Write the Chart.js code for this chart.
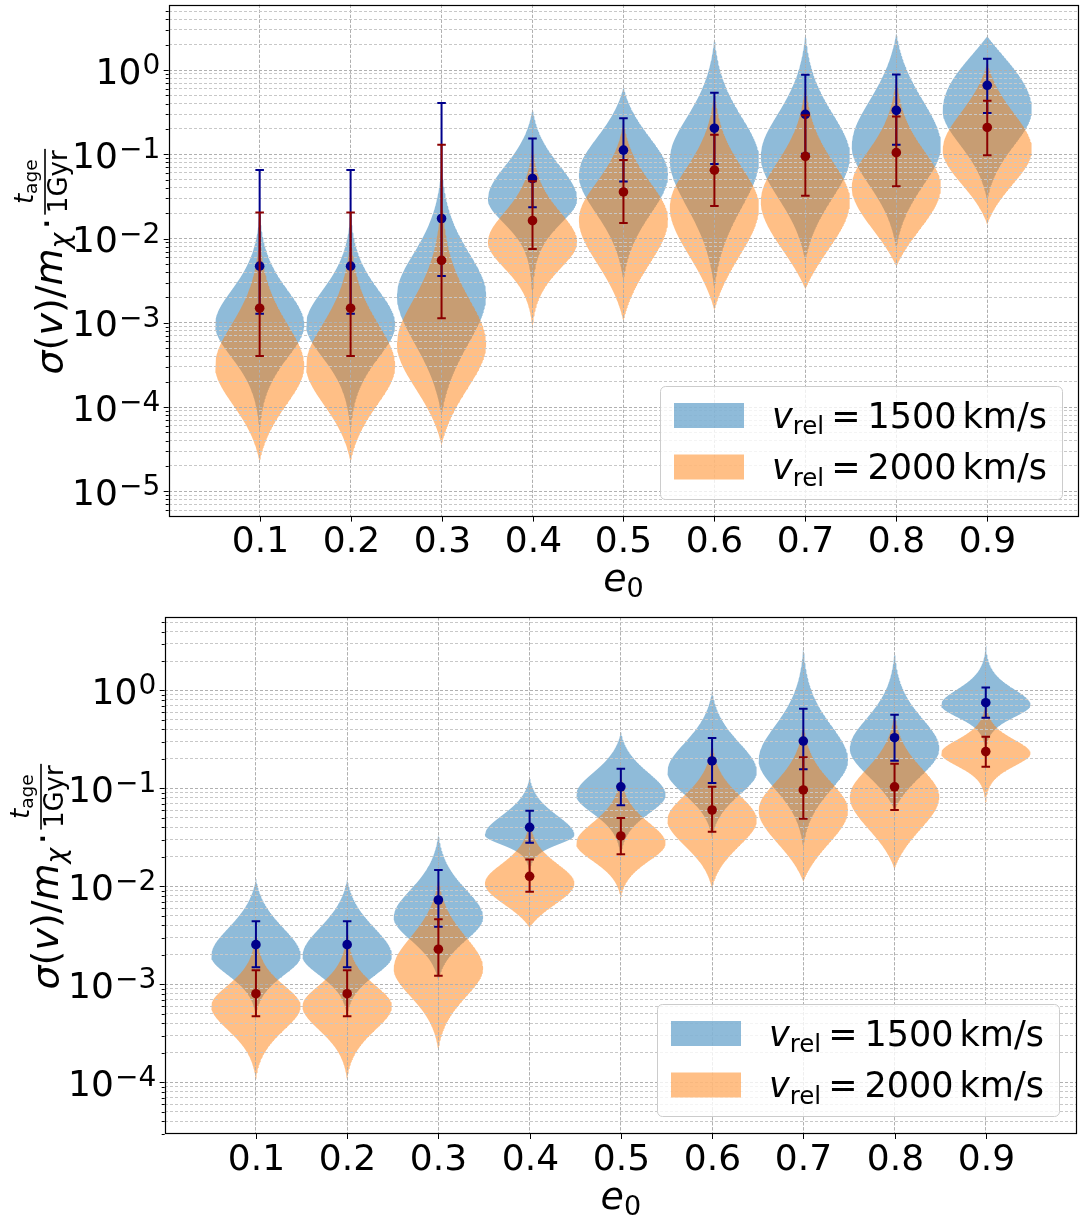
<!DOCTYPE html>
<html>
<head>
<meta charset="utf-8">
<title>Violin plots</title>
<script src="https://cdn.jsdelivr.net/npm/chart.js@4.4.1/dist/chart.umd.min.js"></script>
<style>
html, body { margin:0; padding:0; background:#ffffff; }
#wrap { position:relative; width:1083px; height:1217px; overflow:hidden; background:#fff; }
canvas { position:absolute; left:0; }
</style>
</head>
<body>
<div id="wrap">
  <canvas id="topChart" width="1083" height="600" style="top:0px"></canvas>
  <canvas id="botChart" width="1083" height="617" style="top:600px"></canvas>
</div>
<script>
// ---------------- categories / tick labels ----------------
const e0Labels = ['0.1','0.2','0.3','0.4','0.5','0.6','0.7','0.8','0.9'];
const legendSpeeds = ['1500', '2000'];
const topDecades = [0, -1, -2, -3, -4, -5];
const botDecades = [0, -1, -2, -3, -4];

// ---------------- TOP panel ----------------
// v_rel = 1500 km/s : violin shape (log10 units) and median / error bars
const topBlueMode  = [-3.02, -3.02, -2.67, -1.53, -1.24, -1.06, -1.02, -0.90, -0.475];
const topBlueSUp   = [0.58, 0.58, 0.70, 0.55, 0.60, 0.70, 0.70, 0.74, 0.74];
const topBlueSDown = [0.56, 0.56, 0.80, 0.42, 0.65, 0.80, 0.70, 0.65, 0.58];
const topBlueLo    = [-4.30, -4.30, -4.10, -2.80, -2.50, -2.60, -2.27, -2.12, -1.55];
const topBlueHi    = [-1.65, -1.65, -1.10, -0.45, -0.20, 0.40, 0.45, 0.45, 0.40];
const topBlueMed   = [4.7e-3, 4.7e-3, 0.0173, 0.0516, 0.112, 0.204, 0.298, 0.332, 0.659];
const topBlueErrLo = [1.28e-3, 1.28e-3, 3.6e-3, 0.0235, 0.0476, 0.0769, 0.1016, 0.130, 0.309];
const topBlueErrHi = [0.065, 0.065, 0.406, 0.154, 0.267, 0.536, 0.88, 0.887, 1.36];
// v_rel = 2000 km/s
const topOrangeMode  = [-3.51, -3.51, -3.25, -2.04, -1.77, -1.62, -1.55, -1.38, -0.946];
const topOrangeSUp   = [0.70, 0.70, 0.75, 0.50, 0.60, 0.65, 0.65, 0.60, 0.60];
const topOrangeSDown = [0.64, 0.64, 0.72, 0.45, 0.72, 0.78, 0.74, 0.66, 0.55];
const topOrangeLo    = [-4.65, -4.65, -4.45, -3.07, -2.98, -2.85, -2.60, -2.33, -1.83];
const topOrangeHi    = [-1.90, -1.90, -1.30, -0.80, -0.60, -0.20, -0.10, 0.00, 0.10];
const topOrangeMed   = [1.49e-3, 1.49e-3, 5.5e-3, 0.0163, 0.0357, 0.0648, 0.0946, 0.1045, 0.208];
const topOrangeErrLo = [4.05e-4, 4.05e-4, 1.13e-3, 7.5e-3, 0.0153, 0.0244, 0.0323, 0.0416, 0.0973];
const topOrangeErrHi = [0.0204, 0.0204, 0.130, 0.048, 0.0857, 0.170, 0.290, 0.280, 0.431];

// ---------------- BOTTOM panel ----------------
const botBlueMode  = [-2.709, -2.709, -2.315, -1.474, -1.066, -0.828, -0.709, -0.590, -0.148];
const botBlueSUp   = [0.40, 0.40, 0.40, 0.28, 0.32, 0.41, 0.50, 0.43, 0.23];
const botBlueSDown = [0.28, 0.28, 0.33, 0.14, 0.27, 0.33, 0.43, 0.39, 0.18];
const botBlueLo    = [-3.32, -3.32, -2.96, -1.90, -1.70, -1.50, -1.60, -1.22, -0.65];
const botBlueHi    = [-1.92, -1.92, -1.45, -0.88, -0.42, 0.00, 0.48, 0.42, 0.50];
const botBlueMed   = [2.55e-3, 2.55e-3, 7.28e-3, 0.0402, 0.104, 0.191, 0.305, 0.330, 0.751];
const botBlueErrLo = [1.5e-3, 1.5e-3, 3.89e-3, 0.028, 0.0674, 0.114, 0.157, 0.192, 0.528];
const botBlueErrHi = [4.42e-3, 4.42e-3, 0.0147, 0.0594, 0.159, 0.328, 0.652, 0.566, 1.07];
const botOrangeMode  = [-3.22, -3.22, -2.835, -1.967, -1.559, -1.321, -1.219, -1.083, -0.641];
const botOrangeSUp   = [0.30, 0.30, 0.45, 0.28, 0.30, 0.35, 0.40, 0.40, 0.20];
const botOrangeSDown = [0.35, 0.35, 0.41, 0.29, 0.26, 0.37, 0.46, 0.45, 0.19];
const botOrangeLo    = [-3.97, -3.97, -3.67, -2.42, -2.12, -2.02, -1.95, -1.82, -1.18];
const botOrangeHi    = [-2.30, -2.30, -1.90, -1.30, -0.80, -0.50, -0.30, -0.20, 0.00];
const botOrangeMed   = [8.05e-4, 8.05e-4, 2.29e-3, 0.0127, 0.0328, 0.0603, 0.0966, 0.104, 0.238];
const botOrangeErrLo = [4.73e-4, 4.73e-4, 1.23e-3, 8.85e-3, 0.0213, 0.0362, 0.0492, 0.0603, 0.167];
const botOrangeErrHi = [1.4e-3, 1.4e-3, 4.63e-3, 0.0188, 0.050, 0.104, 0.208, 0.179, 0.338];

// ---------------- styles ----------------
const FONT = '"DejaVu Sans", "Liberation Sans", sans-serif';
const BLUE_FILL = 'rgba(31,119,180,0.5)';
const ORANGE_FILL = 'rgba(255,127,14,0.5)';
const BLUE_DARK = '#00008b';
const RED_DARK = '#8b0000';
const VIOLIN_HALF = 0.49;
const CAP_HALF = 0.047;

function violinOutline(c, mode, sUp, sDown, lo, hi) {
  const N = 200;
  const right = [];
  for (let i = 0; i <= N; i++) {
    const L = lo + (hi - lo) * i / N;
    const up = L > mode;
    const s = up ? sUp : sDown;
    const ch = Math.cosh((L - mode) / s);
    let f = 1 / (ch * ch);
    const u = (L - mode) / ((up ? hi : lo) - mode);
    f *= Math.max(0, 1 - Math.pow(u, 4));
    right.push({ x: c + VIOLIN_HALF * f, y: Math.pow(10, L) });
  }
  const left = right.slice().reverse().map(p => ({ x: 2 * c - p.x, y: p.y }));
  return right.concat(left);
}

function errorSegments(lo, hi) {
  const pts = [];
  for (let i = 0; i < lo.length; i++) {
    const c = i + 1;
    pts.push({x: c, y: lo[i]}, {x: c, y: hi[i]}, {x: c, y: null});
    pts.push({x: c - CAP_HALF, y: lo[i]}, {x: c + CAP_HALF, y: lo[i]}, {x: c, y: null});
    pts.push({x: c - CAP_HALF, y: hi[i]}, {x: c + CAP_HALF, y: hi[i]}, {x: c, y: null});
  }
  return pts;
}

function isDecade(v) {
  if (!v) return false;
  const l = Math.log10(v);
  return Math.abs(l - Math.round(l)) < 1e-9;
}

function logTicks(minExp, maxExp) {
  const t = [];
  const vmin = Math.pow(10, minExp), vmax = Math.pow(10, maxExp);
  for (let k = Math.floor(minExp); k <= Math.ceil(maxExp); k++) {
    for (let m = 1; m <= 9; m++) {
      const v = m * Math.pow(10, k);
      if (v >= vmin && v <= vmax) t.push({ value: v });
    }
  }
  return t;
}

function drawPow(ctx, k, xr, yb) {
  const exp = k === 0 ? '0' : (k < 0 ? '\u2212' + (-k) : String(k));
  ctx.font = '36px ' + FONT;
  const wb = ctx.measureText('10').width;
  ctx.font = '28px ' + FONT;
  const we = ctx.measureText(exp).width;
  const x0 = xr - wb - we - 1;
  ctx.font = '36px ' + FONT;
  ctx.fillText('10', x0, yb);
  ctx.font = '28px ' + FONT;
  ctx.fillText(exp, x0 + wb + 1, yb - 9.5);
}

function drawYTitle(ctx, xBase, yCenter) {
  const F = 38, FS = 26.6, G = 26, GS = 18.5;
  const it = s => 'italic ' + s + 'px ' + FONT;
  const rm = s => s + 'px ' + FONT;
  const main = [['\u03c3', it(F), 0], ['(', rm(F), 0], ['v', it(F), 0], [')', rm(F), 0],
                ['/', rm(F), 0], ['m', it(F), 0], ['\u03c7', it(FS), 7]];
  const w = (t, f) => { ctx.font = f; return ctx.measureText(t).width; };
  let mainW = 0;
  main.forEach(s => { mainW += w(s[0], s[1]); });
  const sp = 3;
  const dotW = w('\u00b7', rm(F));
  const tW = w('t', it(G));
  const numW = tW + w('age', rm(GS));
  const denW = w('1Gyr', rm(G));
  const fracW = Math.max(numW, denW) + 3;
  const total = mainW + sp + dotW + sp + fracW;
  ctx.save();
  ctx.translate(xBase, yCenter);
  ctx.rotate(-Math.PI / 2);
  ctx.fillStyle = '#000';
  ctx.textAlign = 'left';
  ctx.textBaseline = 'alphabetic';
  let x = -total / 2;
  main.forEach(s => { ctx.font = s[1]; ctx.fillText(s[0], x, s[2]); x += ctx.measureText(s[0]).width; });
  x += sp;
  ctx.font = rm(F);
  ctx.fillText('\u00b7', x, -2);
  x += dotW + sp;
  const fx = x;
  ctx.fillRect(fx, -18, fracW, 1.6);
  let nx = fx + (fracW - numW) / 2;
  ctx.font = it(G); ctx.fillText('t', nx, -29); nx += tW;
  ctx.font = rm(GS); ctx.fillText('age', nx, -25);
  ctx.font = rm(G); ctx.fillText('1Gyr', fx + (fracW - denW) / 2, 5);
  ctx.restore();
}

function drawXTitle(ctx, xc, yb) {
  ctx.save();
  ctx.fillStyle = '#000';
  ctx.textAlign = 'left';
  ctx.font = 'italic 38px ' + FONT;
  const we = ctx.measureText('e').width;
  ctx.font = '27px ' + FONT;
  const w0 = ctx.measureText('0').width;
  const x0 = xc - (we + w0) / 2;
  ctx.font = 'italic 38px ' + FONT;
  ctx.fillText('e', x0, yb);
  ctx.font = '27px ' + FONT;
  ctx.fillText('0', x0 + we, yb + 6);
  ctx.restore();
}

function roundRectPath(ctx, x, y, w, h, r) {
  ctx.beginPath();
  ctx.moveTo(x + r, y);
  ctx.lineTo(x + w - r, y); ctx.arcTo(x + w, y, x + w, y + r, r);
  ctx.lineTo(x + w, y + h - r); ctx.arcTo(x + w, y + h, x + w - r, y + h, r);
  ctx.lineTo(x + r, y + h); ctx.arcTo(x, y + h, x, y + h - r, r);
  ctx.lineTo(x, y + r); ctx.arcTo(x, y, x + r, y, r);
  ctx.closePath();
}

function drawLegend(ctx, L) {
  ctx.save();
  roundRectPath(ctx, L.x + 0.5, L.y + 0.5, L.w, L.h, 5);
  ctx.fillStyle = 'rgba(255,255,255,0.8)';
  ctx.fill();
  ctx.strokeStyle = '#cccccc';
  ctx.lineWidth = 1;
  ctx.stroke();
  const rows = [{ fill: BLUE_FILL, label: legendSpeeds[0], dy: 17 }, { fill: ORANGE_FILL, label: legendSpeeds[1], dy: 68.5 }];
  const F = 35, FS = 24.5;
  rows.forEach(r => {
    ctx.fillStyle = r.fill;
    ctx.fillRect(L.x + 14, L.y + r.dy, 70, 25);
    ctx.fillStyle = '#000';
    const yb = L.y + r.dy + 24.5;
    let x = L.x + 112;
    ctx.font = 'italic ' + F + 'px ' + FONT; ctx.fillText('v', x, yb); x += ctx.measureText('v').width;
    ctx.font = FS + 'px ' + FONT; ctx.fillText('rel', x, yb + 6.5); x += ctx.measureText('rel').width;
    x += 7;
    ctx.font = F + 'px ' + FONT; ctx.fillText('=', x, yb); x += ctx.measureText('=').width + 7;
    ctx.fillText(r.label, x, yb); x += ctx.measureText(r.label).width + 6;
    ctx.fillText('km/s', x, yb);
  });
  ctx.restore();
}

function decoPlugin(P) {
  return {
    id: 'deco_' + P.id,
    afterDatasetDraw(chart, args) {
      // matplotlib draws the grid above the violin bodies: redraw grid after the last violin
      if (args.index === 9) {
        chart.scales.x.drawGrid(chart.chartArea);
        chart.scales.y.drawGrid(chart.chartArea);
      }
    },
    afterDraw(chart) {
      const ctx = chart.ctx;
      const a = chart.chartArea;
      const xs = chart.scales.x, ys = chart.scales.y;
      ctx.save();
      ctx.strokeStyle = '#000';
      ctx.lineWidth = 1.2;
      ctx.strokeRect(Math.round(a.left) + 0.5, Math.round(a.top) + 0.5, Math.round(a.right - a.left) - 1, Math.round(a.bottom - a.top) - 1);
      ctx.lineWidth = 1;
      logTicks(P.yMinExp, P.yMaxExp).forEach(t => {
        const py = Math.round(ys.getPixelForValue(t.value)) + 0.5;
        const len = isDecade(t.value) ? 5 : 3;
        ctx.beginPath(); ctx.moveTo(a.left - len, py); ctx.lineTo(a.left, py); ctx.stroke();
      });
      ctx.fillStyle = '#000';
      ctx.textAlign = 'center';
      ctx.textBaseline = 'alphabetic';
      e0Labels.forEach((lab, i) => {
        const px = Math.round(xs.getPixelForValue(i + 1)) + 0.5;
        ctx.beginPath(); ctx.moveTo(px, a.bottom); ctx.lineTo(px, a.bottom + 5); ctx.stroke();
        ctx.font = '36px ' + FONT;
        ctx.fillText(lab, px, a.bottom + 35.5);
      });
      ctx.textAlign = 'left';
      P.decades.forEach(k => {
        const py = ys.getPixelForValue(Math.pow(10, k));
        drawPow(ctx, k, a.left - 8.5, py + 13.5);
      });
      ctx.restore();
      drawXTitle(ctx, (a.left + a.right) / 2, a.bottom + 74.5);
      drawYTitle(ctx, a.left - 106.5, (a.top + a.bottom) / 2 + 1);
      drawLegend(ctx, P.legend);
    }
  };
}

function makePanel(P) {
  const datasets = [];
  P.series.forEach((s, si) => {
    for (let i = 0; i < e0Labels.length; i++) {
      datasets.push({
        type: 'line',
        label: 'violin ' + legendSpeeds[si] + ' ' + e0Labels[i],
        data: violinOutline(i + 1, s.mode[i], s.sUp[i], s.sDown[i], s.lo[i], s.hi[i]),
        backgroundColor: s.fill, borderColor: 'transparent', borderWidth: 0,
        pointRadius: 0, fill: 'shape', tension: 0, order: si === 0 ? 6 : 5
      });
    }
  });
  P.series.forEach((s, si) => {
    datasets.push({
      type: 'line', label: 'err ' + legendSpeeds[si],
      data: errorSegments(s.errLo, s.errHi),
      borderColor: s.dark, borderWidth: 2, pointRadius: 0, fill: false,
      spanGaps: false, tension: 0, order: si === 0 ? 4 : 2
    });
    datasets.push({
      type: 'line', label: 'median ' + legendSpeeds[si],
      data: s.med.map((v, i) => ({ x: i + 1, y: v })),
      showLine: false, pointRadius: 4.8, pointBackgroundColor: s.dark,
      pointBorderColor: s.dark, pointBorderWidth: 0, fill: false, order: si === 0 ? 3 : 1
    });
  });

  new Chart(document.getElementById(P.id), {
    type: 'line',
    data: { datasets },
    options: {
      responsive: false, animation: false, events: [], devicePixelRatio: 1,
      layout: { padding: { left: 0, right: P.canvasW - P.areaRight, top: P.areaTop, bottom: 0 } },
      plugins: { legend: { display: false }, tooltip: { enabled: false } },
      scales: {
        x: {
          type: 'linear', min: 0, max: 10, position: 'bottom',
          afterBuildTicks: sc => { sc.ticks = e0Labels.map((_, i) => ({ value: i + 1 })); },
          afterFit: sc => { sc.height = P.canvasH - P.areaBottom; },
          ticks: { display: false },
          grid: { color: '#b0b0b0', lineWidth: 1, drawTicks: false },
          border: { display: false, dash: [3, 2] }
        },
        y: {
          type: 'logarithmic', min: Math.pow(10, P.yMinExp), max: Math.pow(10, P.yMaxExp), position: 'left',
          afterBuildTicks: sc => { sc.ticks = logTicks(P.yMinExp, P.yMaxExp); },
          afterFit: sc => { sc.width = P.areaLeft; },
          ticks: { display: false },
          grid: {
            color: c => (c.tick && isDecade(c.tick.value)) ? '#b0b0b0' : '#c8c8c8',
            lineWidth: 1, drawTicks: false
          },
          border: { display: false, dash: [3, 2] }
        }
      }
    },
    plugins: [decoPlugin(P)]
  });
}

makePanel({
  id: 'topChart', canvasW: 1083, canvasH: 600,
  areaLeft: 168.7, areaRight: 1081, areaTop: 0.5, areaBottom: 516.6,
  yMinExp: -5.3, yMaxExp: 0.774, decades: topDecades,
  legend: { x: 660, y: 386, w: 402, h: 113 },
  series: [
    { mode: topBlueMode, sUp: topBlueSUp, sDown: topBlueSDown, lo: topBlueLo, hi: topBlueHi,
      med: topBlueMed, errLo: topBlueErrLo, errHi: topBlueErrHi, fill: BLUE_FILL, dark: BLUE_DARK },
    { mode: topOrangeMode, sUp: topOrangeSUp, sDown: topOrangeSDown, lo: topOrangeLo, hi: topOrangeHi,
      med: topOrangeMed, errLo: topOrangeErrLo, errHi: topOrangeErrHi, fill: ORANGE_FILL, dark: RED_DARK }
  ]
});

makePanel({
  id: 'botChart', canvasW: 1083, canvasH: 617,
  areaLeft: 164.7, areaRight: 1077, areaTop: 17.3, areaBottom: 534,
  yMinExp: -4.526, yMaxExp: 0.747, decades: botDecades,
  legend: { x: 657, y: 404, w: 402, h: 112 },
  series: [
    { mode: botBlueMode, sUp: botBlueSUp, sDown: botBlueSDown, lo: botBlueLo, hi: botBlueHi,
      med: botBlueMed, errLo: botBlueErrLo, errHi: botBlueErrHi, fill: BLUE_FILL, dark: BLUE_DARK },
    { mode: botOrangeMode, sUp: botOrangeSUp, sDown: botOrangeSDown, lo: botOrangeLo, hi: botOrangeHi,
      med: botOrangeMed, errLo: botOrangeErrLo, errHi: botOrangeErrHi, fill: ORANGE_FILL, dark: RED_DARK }
  ]
});
</script>
</body>
</html>
